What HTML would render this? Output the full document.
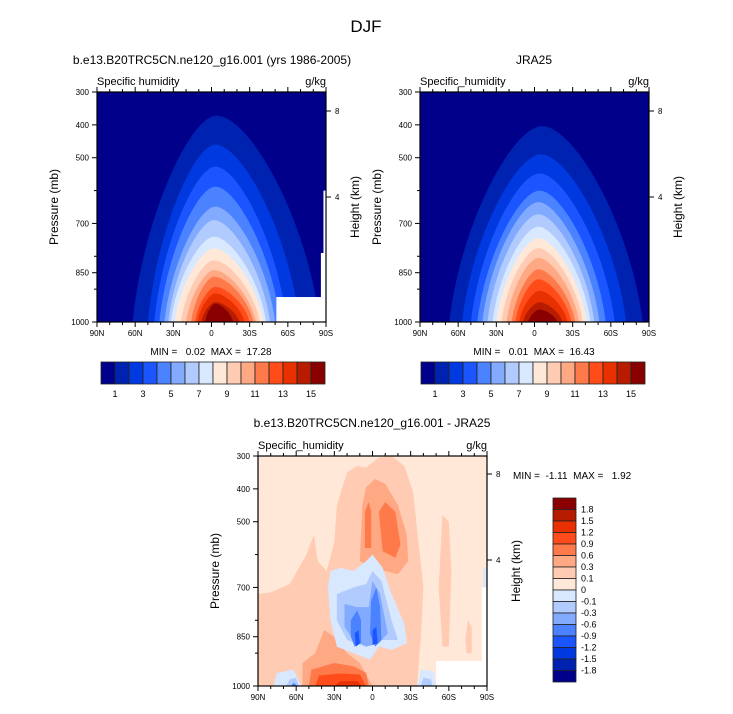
<!DOCTYPE html>
<html><head><meta charset="utf-8"><style>
body{margin:0;background:#fff}
svg text{font-family:"Liberation Sans",sans-serif;fill:#000;white-space:pre}
</style></head><body>
<svg id="c" width="733" height="709" viewBox="0 0 733 709" xmlns="http://www.w3.org/2000/svg">
<text x="366" y="32" font-size="17" text-anchor="middle">DJF</text>
</svg>
<script>
const palette=["#00008a","#0022b0","#0039e0","#1a55ff","#4a82ff","#82aaff","#b2cbff","#d8e8ff","#ffe8d8","#ffcbb2","#ffa884","#ff7a4a","#ff4c1a","#e83000","#b81c00","#8a0000"];
const latTicks=[90,60,30,0,-30,-60,-90];
const latTickLabels=["90N","60N","30N","0","30S","60S","90S"];
const pTicks=[300,400,500,700,850,1000];
const hTicks=[[8,"8"],[4,"4"]];
const modelBaseLeft=[62,50,45,41,37,34,32,29,24,20,16,13,11,8,5];
const modelBaseRight=[-85,-69,-59,-54,-50,-46,-43,-41,-38,-35,-33,-30,-26,-22,-17];
const modelPeakP=[372,460,527,588,649,690,740,776,812,842,862,893,913,939,944];
const modelPeakLat=[-4,-3,-3,-3,-3,-2,-2,-2,-2,-2,-2,-3,-3,-3,-3];
const obsBaseLeft=[67,57,50,45,41,37,33,30,26,22,18,15,12,9,5];
const obsBaseRight=[-85,-72,-63,-56,-51,-47,-44,-41,-38,-35,-32,-29,-26,-22,-18];
const obsPeakP=[404,490,548,600,635,672,710,745,775,805,840,870,905,940,962];
const obsPeakLat=[-6,-5,-4,-4,-3,-3,-3,-3,-3,-3,-3,-3,-4,-4,-4];
const topCbLabels=["1","3","5","7","9","11","13","15"];
const diffCbLabels=["1.8","1.5","1.2","0.9","0.6","0.3","0.1","0","-0.1","-0.3","-0.6","-0.9","-1.2","-1.5","-1.8"];
const diffPolys=[
 [9,[[90,720],[80,715],[65,690],[52,600],[46,540],[43,620],[36,650],[30,560],[28,450],[20,350],[12,330],[5,335],[0,320],[-5,305],[-15,300],[-25,330],[-32,410],[-36,560],[-40,700],[-38,850],[-35,1000],[90,1000]]],
 [9,[[-52,700],[-55,480],[-60,500],[-62,650],[-60,880],[-55,880]]],
 [9,[[-73,860],[-75,800],[-78,820],[-78,900],[-74,900]]],
 [10,[[8,450],[5,395],[-2,370],[-10,385],[-20,450],[-27,540],[-28,620],[-20,660],[0,640],[10,620]]],
 [10,[[55,1000],[55,930],[45,900],[38,830],[30,850],[20,900],[10,930],[0,1000]]],
 [11,[[6,580],[6,470],[3,440],[1,470],[1,580]]],
 [11,[[-5,470],[-10,440],[-18,470],[-22,570],[-18,610],[-8,590]]],
 [11,[[50,1000],[48,950],[30,930],[15,940],[5,960],[3,1000]]],
 [12,[[45,1000],[42,968],[25,962],[10,965],[5,1000]]],
 [13,[[30,1000],[25,985],[12,985],[8,1000]]],
 [7,[[35,700],[33,650],[25,640],[15,650],[5,620],[0,600],[-8,640],[-15,720],[-25,810],[-27,870],[-15,890],[-5,880],[2,920],[15,900],[28,880],[33,800]]],
 [7,[[78,1000],[75,960],[62,950],[56,1000]]],
 [7,[[-35,1000],[-38,950],[-48,955],[-50,1000]]],
 [6,[[28,720],[15,700],[5,690],[0,650],[-7,680],[-15,800],[-20,860],[-5,860],[5,880],[20,860],[28,800]]],
 [6,[[68,1000],[65,980],[60,975],[58,1000]]],
 [6,[[-38,1000],[-40,975],[-46,980],[-47,1000]]],
 [5,[[22,750],[12,760],[3,760],[0,680],[-6,720],[-12,840],[-5,870],[5,880],[15,860],[22,820]]],
 [4,[[17,800],[12,770],[9,800],[9,870],[14,880],[17,850]]],
 [4,[[1,740],[-3,700],[-6,760],[-7,860],[-2,880],[2,840]]],
 [3,[[14,840],[11,830],[10,870],[13,880]]],
 [3,[[0,830],[-3,820],[-4,870],[0,875]]],
 [4,[[64,1000],[62,990],[59,1000]]]
];
const S="http://www.w3.org/2000/svg";
const svg=document.getElementById('c');
function mk(tag,attrs,parent){const e=document.createElementNS(S,tag);for(const k in attrs)e.setAttribute(k,attrs[k]);(parent||svg).appendChild(e);return e;}
function txt(x,y,s,size,anchor,parent){const t=mk('text',{x:x,y:y,'font-size':size,'text-anchor':anchor||'start'},parent);t.textContent=s;return t;}

function axes(x0,y0){
 const w=229,h=230;
 return {x:lat=>x0+(90-lat)/180*w, y:p=>y0+(p-300)/700*h, x0,y0,w,h};
}
function domeLevels(ax,g,bl,br,pp,pl){
 for(let i=0;i<bl.length;i++){
  const d=1000-pp[i];
  const a=ax.x(bl[i]),b=ax.x(br[i]),k=ax.x(pl[i]);
  const path=`M${a},${ax.y(1000)} C${a+(k-a)*0.12},${ax.y(1000-0.5*d)} ${k-(k-a)*0.32},${ax.y(pp[i])} ${k},${ax.y(pp[i])} C${k+(b-k)*0.32},${ax.y(pp[i])} ${b-(b-k)*0.12},${ax.y(1000-0.5*d)} ${b},${ax.y(1000)} Z`;
  const e=mk('path',{d:path,fill:palette[i+1]},g);
  
  
 }
}
function frame(ax,g,left,unit,heightTicksY){
 const {x0,y0,w,h}=ax;
 mk('rect',{x:x0,y:y0,width:w,height:h,fill:'none',stroke:'#000','stroke-width':1.2},g);
 for(let l=90;l>=-90;l-=10){const xx=ax.x(l);const big=(l%30===0);
  mk('line',{x1:xx,y1:y0+h,x2:xx,y2:y0+h+(big?5:3),stroke:'#000'},g);
  mk('line',{x1:xx,y1:y0,x2:xx,y2:y0-(big?5:3),stroke:'#000'},g);}
 latTicks.forEach((l,i)=>{txt(ax.x(l),y0+h+14,latTickLabels[i],8,'middle',g);});
 pTicks.forEach(p=>{mk('line',{x1:x0,y1:ax.y(p),x2:x0-5,y2:ax.y(p),stroke:'#000'},g);txt(x0-8,ax.y(p)+3,String(p),8,'end',g);});
 [600,800,900].forEach(p=>mk('line',{x1:x0,y1:ax.y(p),x2:x0-3,y2:ax.y(p),stroke:'#000'},g));
 hTicks.forEach((t,i)=>{const yy=y0+heightTicksY[i];mk('line',{x1:x0+w,y1:yy,x2:x0+w+5,y2:yy,stroke:'#000'},g);txt(x0+w+9,yy+3,t[1],8,'start',g);});
 txt(x0,y0-7,left,11,'start',g);txt(x0+w,y0-7,unit,11,'end',g);
 const yl=txt(0,0,'Pressure (mb)',12,'middle',g);yl.setAttribute('transform',`translate(${x0-39},${y0+115}) rotate(-90)`);
 
 const hl=txt(0,0,'Height (km)',12,'middle',g);hl.setAttribute('transform',`translate(${x0+w+33},${y0+115}) rotate(-90)`);
 
}
function hBar(x,y,g){
 const bw=14;
 palette.forEach((c,i)=>{const r=mk('rect',{x:x+i*bw,y:y,width:bw,height:22,fill:c,stroke:'#222','stroke-width':0.8},g);
  });
 topCbLabels.forEach((s,i)=>txt(x+bw*(1+2*i),y+35,s,9,'middle',g));
}

const g1=mk('g',{});
const a1=axes(97,92);
txt(212,64,'b.e13.B20TRC5CN.ne120_g16.001 (yrs 1986-2005)',12,'middle',g1);
mk('rect',{x:a1.x0,y:a1.y0,width:a1.w,height:a1.h,fill:palette[0]},g1);
domeLevels(a1,g1,modelBaseLeft,modelBaseRight,modelPeakP,modelPeakLat);
const miss1=mk('rect',{x:a1.x(-51),y:a1.y(924),width:a1.x(-90)-a1.x(-51),height:a1.y(1000)-a1.y(924),fill:'#fff'},g1);

mk('rect',{x:a1.x(-88),y:a1.y(600),width:a1.x(-90)-a1.x(-88),height:a1.y(1000)-a1.y(600),fill:'#fff'},g1);
mk('rect',{x:a1.x(-86),y:a1.y(790),width:a1.x(-90)-a1.x(-86),height:a1.y(1000)-a1.y(790),fill:'#fff'},g1);
frame(a1,g1,'Specific humidity','g/kg',[19,105]);
txt(211,355,'MIN =   0.02  MAX =  17.28',10,'middle',g1);
hBar(101,362,g1);

const g2=mk('g',{});
const a2=axes(420,92);
txt(534,64,'JRA25',12,'middle',g2);
mk('rect',{x:a2.x0,y:a2.y0,width:a2.w,height:a2.h,fill:palette[0]},g2);
domeLevels(a2,g2,obsBaseLeft,obsBaseRight,obsPeakP,obsPeakLat);
frame(a2,g2,'Specific_humidity','g/kg',[19,105]);
txt(534,355,'MIN =   0.01  MAX =  16.43',10,'middle',g2);
hBar(421,362,g2);

const g3=mk('g',{});
const a3=axes(258,456);
txt(372,427,'b.e13.B20TRC5CN.ne120_g16.001 - JRA25',12,'middle',g3);
mk('rect',{x:a3.x0,y:a3.y0,width:a3.w,height:a3.h,fill:palette[8]},g3);
diffPolys.forEach(([ci,pts])=>{
 const e=mk('polygon',{points:pts.map(([l,p])=>a3.x(l)+','+a3.y(p)).join(' '),fill:palette[ci]},g3);
 
});
mk('rect',{x:a3.x(-50),y:a3.y(924),width:a3.x(-90)-a3.x(-50),height:a3.y(1000)-a3.y(924),fill:'#fff'},g3);
mk('rect',{x:a3.x(-86),y:a3.y(700),width:a3.x(-90)-a3.x(-86),height:a3.y(1000)-a3.y(700),fill:'#fff'},g3);
mk('rect',{x:a3.x(-87),y:a3.y(640),width:a3.x(-90)-a3.x(-87),height:a3.y(700)-a3.y(640),fill:palette[7]},g3);
frame(a3,g3,'Specific_humidity','g/kg',[18,104]);
txt(513,479,'MIN =  -1.11  MAX =   1.92',10,'start',g3);
const vbw=11.5;
palette.slice().reverse().forEach((c,i)=>{const r=mk('rect',{x:553,y:498+i*vbw,width:23,height:vbw,fill:c,stroke:'#222','stroke-width':0.8},g3);
 });
diffCbLabels.forEach((s,i)=>txt(581,498+(i+1)*vbw+3,s,9,'start',g3));
</script>
</body></html>
